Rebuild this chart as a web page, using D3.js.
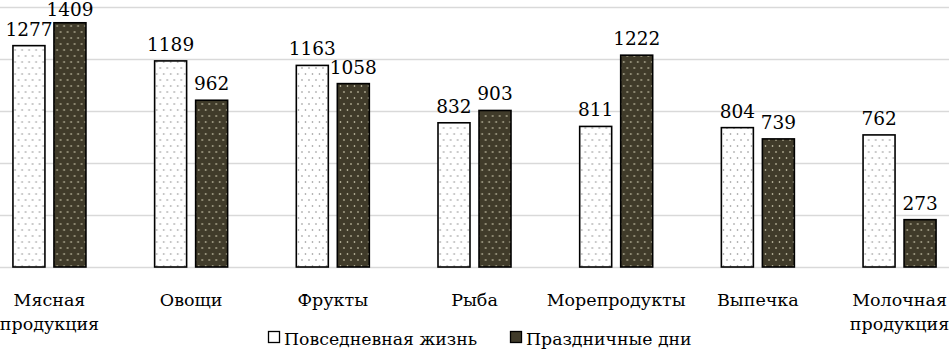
<!DOCTYPE html>
<html>
<head>
<meta charset="utf-8">
<script src="https://d3js.org/d3.v7.min.js"></script>
<style type="text/css">
  body{
    margin: 0px;
    background: white;
  }
  svg text{
    font-family: "DejaVu Serif", serif;
    fill: #000;
  }
</style>
</head>
<body>
<svg id="chart" width="949" height="350"></svg>
<script>

var categories = [["Мясная","продукция"], ["Овощи"], ["Фрукты"], ["Рыба"], ["Морепродукты"], ["Выпечка"], ["Молочная","продукция"]];
var seriesNames = ["Повседневная жизнь", "Праздничные дни"];
var everyday = [1277, 1189, 1163, 832, 811, 804, 762];
var holidays = [1409, 962, 1058, 903, 1222, 739, 273];
var yTicks = [0, 300, 600, 900, 1200, 1500];

var width = 949, height = 350;
var svg = d3.select("#chart");

// plot area runs a bit past the left/right edges (the picture is cropped)
var x = d3.scaleBand()
  .domain(d3.range(categories.length))
  .range([-21.4, 970.4]);

var xs = d3.scaleBand()
  .domain([0, 1])
  .range([x.bandwidth()/2 - 36.5, x.bandwidth()/2 + 36.5])
  .paddingInner(0.22);

var y = d3.scaleLinear()
  .domain([0, 1500])
  .range([267, 7]);

// dot patterns
var defs = svg.append("defs");

function dotPattern(id, bg, dot) {
  var p = defs.append("pattern")
    .attr("id", id)
    .attr("patternUnits", "userSpaceOnUse")
    .attr("width", 7)
    .attr("height", 12);
  p.append("rect").attr("width", 7).attr("height", 12).attr("fill", bg);
  p.append("circle").attr("cx", 1.5).attr("cy", 2).attr("r", 0.8).attr("fill", dot);
  p.append("circle").attr("cx", 5).attr("cy", 8).attr("r", 0.8).attr("fill", dot);
}
dotPattern("pat0", "#ffffff", "#8a8a8a");
dotPattern("pat1", "#403b2a", "#e8e4c8");

var fills = ["url(#pat0)", "url(#pat1)"];

// grid
svg.append("g")
  .selectAll("line")
  .data(yTicks)
  .enter()
  .append("line")
  .attr("x1", 0)
  .attr("x2", width)
  .attr("y1", function(d) { return Math.round(y(d)) + 0.5; })
  .attr("y2", function(d) { return Math.round(y(d)) + 0.5; })
  .attr("stroke", "#d9d9d9")
  .attr("stroke-width", 1.3);

var data = categories.map(function(c, i) { return [everyday[i], holidays[i]]; });

var group = svg.selectAll(".grp")
  .data(data)
  .enter()
  .append("g")
  .attr("class", "grp")
  .attr("transform", function(d, i) { return "translate(" + x(i) + ",0)"; });

group.selectAll("rect")
  .data(function(d) { return d; })
  .enter()
  .append("rect")
  .attr("x", function(d, j) { return xs(j); })
  .attr("width", xs.bandwidth())
  .attr("y", function(d) { return y(d); })
  .attr("height", function(d) { return y(0) - y(d); })
  .attr("fill", function(d, j) { return fills[j]; })
  .attr("stroke", "#000")
  .attr("stroke-width", 1.6);

group.selectAll(".val")
  .data(function(d) { return d; })
  .enter()
  .append("text")
  .attr("class", "val")
  .attr("x", function(d, j) { return xs(j) + xs.bandwidth()/2; })
  .attr("y", function(d) { return Math.max(y(d) - 10, 16); })
  .attr("text-anchor", "middle")
  .style("font-size", "18.5px")
  .text(function(d) { return d; });

// category labels
svg.append("g")
  .selectAll("text")
  .data(categories)
  .enter()
  .append("text")
  .attr("x", function(d, i) { return x(i) + x.bandwidth()/2; })
  .attr("y", 306)
  .attr("text-anchor", "middle")
  .style("font-size", "17.5px")
  .each(function(d) {
    var t = d3.select(this);
    d.forEach(function(line, k) {
      t.append("tspan")
        .attr("x", t.attr("x"))
        .attr("dy", k === 0 ? 0 : 24)
        .text(line);
    });
  });

// legend
var legendX = [268, 510];
var legend = svg.append("g")
  .selectAll("g")
  .data(seriesNames)
  .enter()
  .append("g")
  .attr("transform", function(d, i) { return "translate(" + legendX[i] + ",331)"; });

legend.append("rect")
  .attr("x", 0.5)
  .attr("y", 0.5)
  .attr("width", 11)
  .attr("height", 11)
  .attr("fill", function(d, i) { return i === 0 ? "#ffffff" : "#403b2a"; })
  .attr("stroke", "#000")
  .attr("stroke-width", 1.3);

legend.append("text")
  .attr("x", 16)
  .attr("y", 14)
  .style("font-size", "17.3px")
  .text(function(d) { return d; });

</script>
</body>
</html>
